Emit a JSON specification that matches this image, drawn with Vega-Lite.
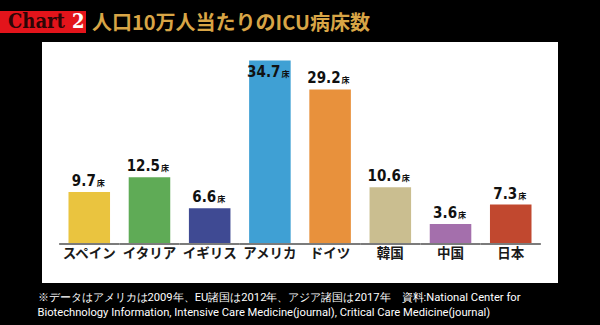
{
  "$schema": "https://vega.github.io/schema/vega-lite/v6.json",
  "width": 516,
  "height": 241,
  "autosize": {"type": "none"},
  "padding": {"left": 42, "top": 42, "right": 42, "bottom": 42},
  "background": "black",
  "config": {"view": {"fill": "white", "stroke": null}},
  "title": {"text": "人口10万人当たりのICU病床数", "anchor": "start", "frame": "group", "dx": 50, "dy": 33, "offset": 10, "color": "#d8a546", "fontSize": 20, "font": "Noto Sans CJK JP", "fontWeight": "bold"},
  "data": {"values": [
    {"country": "スペイン", "value": 9.7},
    {"country": "イタリア", "value": 12.5},
    {"country": "イギリス", "value": 6.6},
    {"country": "アメリカ", "value": 34.7},
    {"country": "ドイツ", "value": 29.2},
    {"country": "韓国", "value": 10.6},
    {"country": "中国", "value": 3.6},
    {"country": "日本", "value": 7.3}
  ]},
  "encoding": {
    "x": {"field": "country", "type": "nominal", "sort": null,
      "scale": {"paddingInner": 0.31, "paddingOuter": 0.44},
      "axis": {"orient": "bottom", "labels": false, "ticks": false, "domain": false, "grid": false,
        "title": ["※データはアメリカは2009年、EU諸国は2012年、アジア諸国は2017年\u3000資料:National Center for", "Biotechnology Information, Intensive Care Medicine(journal), Critical Care Medicine(journal)"],
        "titleColor": "white", "titleFont": "Roboto", "titleFontSize": 11.2, "titleFontWeight": "normal",
        "titleAlign": "left", "titleAnchor": "start", "titleX": -5, "titleY": 8, "titleBaseline": "top", "titleLineHeight": 15}}
  },
  "layer": [
    {
      "mark": {"type": "bar"},
      "encoding": {
        "y": {"field": "value", "type": "quantitative", "scale": {"domain": [-7.605, 38.21], "nice": false, "zero": false}, "axis": null},
        "y2": {"datum": 0},
        "color": {"field": "country", "type": "nominal", "sort": null, "legend": null,
          "scale": {"domain": ["スペイン", "イタリア", "イギリス", "アメリカ", "ドイツ", "韓国", "中国", "日本"],
            "range": ["#eac43f", "#5fab56", "#3f4a93", "#3fa0d4", "#e8913c", "#cabe90", "#a46fac", "#c1482f"]}}
      }
    },
    {
      "mark": {"type": "bar", "width": {"band": 1.45}, "color": "#7b7b7b"},
      "encoding": {"y": {"datum": 0, "type": "quantitative"}, "y2": {"datum": -0.4}}
    },
    {
      "mark": {"type": "text", "baseline": "middle", "align": "center", "font": "Noto Sans CJK JP", "fontWeight": "bold", "fontSize": 13.5, "color": "#1a1a1a"},
      "encoding": {"y": {"datum": -2.09, "type": "quantitative"}, "text": {"field": "country"}}
    },
    {
      "transform": [{"filter": "datum.value < 10"}],
      "layer": [
        {"mark": {"type": "text", "align": "right", "baseline": "alphabetic", "dx": 6.5, "dy": -6, "font": "DejaVu Sans Condensed", "fontWeight": "bold", "fontSize": 15, "color": "#111111"},
         "encoding": {"y": {"field": "value", "type": "quantitative"}, "text": {"field": "value", "format": ".1f"}}},
        {"mark": {"type": "text", "align": "left", "baseline": "alphabetic", "dx": 7.5, "dy": -6, "font": "Noto Sans CJK JP", "fontWeight": "bold", "fontSize": 8, "color": "#111111", "text": "床"},
         "encoding": {"y": {"field": "value", "type": "quantitative"}}}
      ]
    },
    {
      "transform": [{"filter": "datum.value >= 10 && datum.country != 'アメリカ'"}],
      "layer": [
        {"mark": {"type": "text", "align": "right", "baseline": "alphabetic", "dx": 10.5, "dy": -6, "font": "DejaVu Sans Condensed", "fontWeight": "bold", "fontSize": 15, "color": "#111111"},
         "encoding": {"y": {"field": "value", "type": "quantitative"}, "text": {"field": "value", "format": ".1f"}}},
        {"mark": {"type": "text", "align": "left", "baseline": "alphabetic", "dx": 11.5, "dy": -6, "font": "Noto Sans CJK JP", "fontWeight": "bold", "fontSize": 8, "color": "#111111", "text": "床"},
         "encoding": {"y": {"field": "value", "type": "quantitative"}}}
      ]
    },
    {
      "transform": [{"filter": "datum.country == 'アメリカ'"}],
      "layer": [
        {"mark": {"type": "text", "align": "right", "baseline": "alphabetic", "dx": 10.5, "dy": 16.5, "font": "DejaVu Sans Condensed", "fontWeight": "bold", "fontSize": 15, "color": "#111111"},
         "encoding": {"y": {"field": "value", "type": "quantitative"}, "text": {"field": "value", "format": ".1f"}}},
        {"mark": {"type": "text", "align": "left", "baseline": "alphabetic", "dx": 11.5, "dy": 16.5, "font": "Noto Sans CJK JP", "fontWeight": "bold", "fontSize": 8, "color": "#111111", "text": "床"},
         "encoding": {"y": {"field": "value", "type": "quantitative"}}}
      ]
    },
    {
      "data": {"values": [{"chart": "Chart"}]},
      "mark": {"type": "point", "opacity": 0},
      "encoding": {
        "x": {"value": 0},
        "y": {"value": 0},
        "shape": {"field": "chart", "type": "nominal",
          "legend": {"orient": "none", "legendX": -56, "legendY": -31, "direction": "horizontal",
            "title": "2\u00a0", "titleOrient": "right", "titleFont": "DejaVu Serif Condensed", "titleFontSize": 20, "titleFontWeight": "bold", "titleColor": "white", "titlePadding": 7,
            "labelFont": "DejaVu Serif Condensed", "labelFontSize": 20, "labelFontWeight": "bold", "labelColor": "#2b0606",
            "symbolSize": 1, "symbolOpacity": 0, "symbolStrokeWidth": 0, "labelOffset": 1,
            "fillColor": "#e3141b", "padding": 1, "cornerRadius": 0}}
      }
    }
  ]
}
